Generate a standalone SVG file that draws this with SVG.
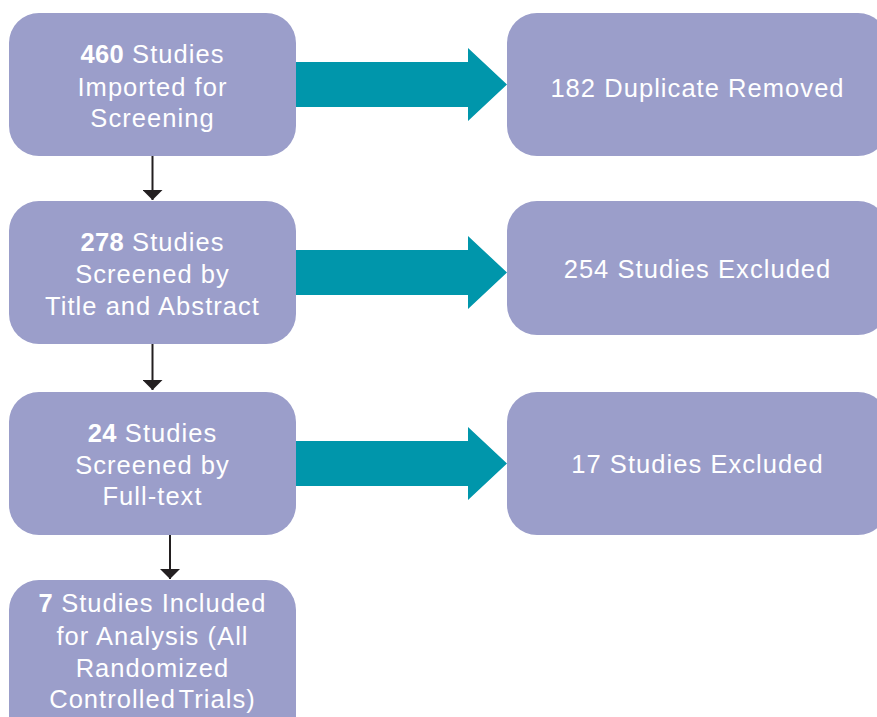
<svg xmlns="http://www.w3.org/2000/svg" width="877" height="717" viewBox="0 0 877 717">
  <defs>
    <style>
      .box { fill: #9b9eca; }
      .flow { fill: #0096ab; }
      .down { stroke: #231f20; stroke-width: 2; fill: none; }
      .lbl { font-family: "Liberation Sans", Arial, sans-serif; font-size: 25.5px; fill: #ffffff; text-anchor: middle; letter-spacing: 1.05px; }
      .num { font-weight: bold; letter-spacing: 0.3px; }
    </style>
    <!-- solid triangular head, tip at the line end -->
    <marker id="head" viewBox="0 0 10 20" refX="10" refY="10" markerWidth="10" markerHeight="20" markerUnits="userSpaceOnUse" orient="auto">
      <path d="M0,0 L10,10 L0,20 Z" fill="#231f20"/>
    </marker>
  </defs>
  <rect width="877" height="717" fill="#ffffff"/>

  <!-- connectors -->
  <g id="connectors">
    <path class="down" d="M152.5,156 V200" marker-end="url(#head)"/>
    <path class="down" d="M152.5,344 V390" marker-end="url(#head)"/>
    <path class="down" d="M170,535 V579" marker-end="url(#head)"/>
    <polygon class="flow" points="296,62 468,62 468,48 507,84.5 468,121 468,107 296,107"/>
    <polygon class="flow" points="296,250 468,250 468,236 507,272.5 468,309 468,295 296,295"/>
    <polygon class="flow" points="296,441 468,441 468,427 507,463.5 468,500 468,486 296,486"/>
  </g>

  <!-- screening stages -->
  <g id="imported">
    <rect class="box" x="9" y="13" width="287" height="143" rx="30"/>
    <text class="lbl" x="152.5" y="63"><tspan class="num">460</tspan> Studies</text>
    <text class="lbl" x="152.5" y="96">Imported for</text>
    <text class="lbl" x="152.5" y="127">Screening</text>
  </g>
  <g id="title-abstract">
    <rect class="box" x="9" y="201" width="287" height="143" rx="30"/>
    <text class="lbl" x="152.5" y="251"><tspan class="num">278</tspan> Studies</text>
    <text class="lbl" x="152.5" y="283">Screened by</text>
    <text class="lbl" x="152.5" y="315">Title and Abstract</text>
  </g>
  <g id="full-text">
    <rect class="box" x="9" y="392" width="287" height="143" rx="30"/>
    <text class="lbl" x="152.5" y="442"><tspan class="num">24</tspan> Studies</text>
    <text class="lbl" x="152.5" y="474">Screened by</text>
    <text class="lbl" x="152.5" y="505">Full-text</text>
  </g>
  <g id="included">
    <rect class="box" x="9" y="580" width="287" height="170" rx="30"/>
    <text class="lbl" x="152.5" y="612"><tspan class="num">7</tspan> Studies Included</text>
    <text class="lbl" x="152.5" y="645">for Analysis (All</text>
    <text class="lbl" x="152.5" y="677">Randomized</text>
    <text class="lbl" x="152.5" y="708" word-spacing="-5">Controlled Trials)</text>
  </g>

  <!-- exclusions -->
  <g id="duplicates">
    <rect class="box" x="507" y="13" width="381" height="143" rx="30"/>
    <text class="lbl" x="697.5" y="97">182 Duplicate Removed</text>
  </g>
  <g id="excluded-title">
    <rect class="box" x="507" y="201" width="381" height="134" rx="30"/>
    <text class="lbl" x="697.5" y="278">254 Studies Excluded</text>
  </g>
  <g id="excluded-full">
    <rect class="box" x="507" y="392" width="381" height="143" rx="30"/>
    <text class="lbl" x="697.5" y="473">17 Studies Excluded</text>
  </g>
</svg>
